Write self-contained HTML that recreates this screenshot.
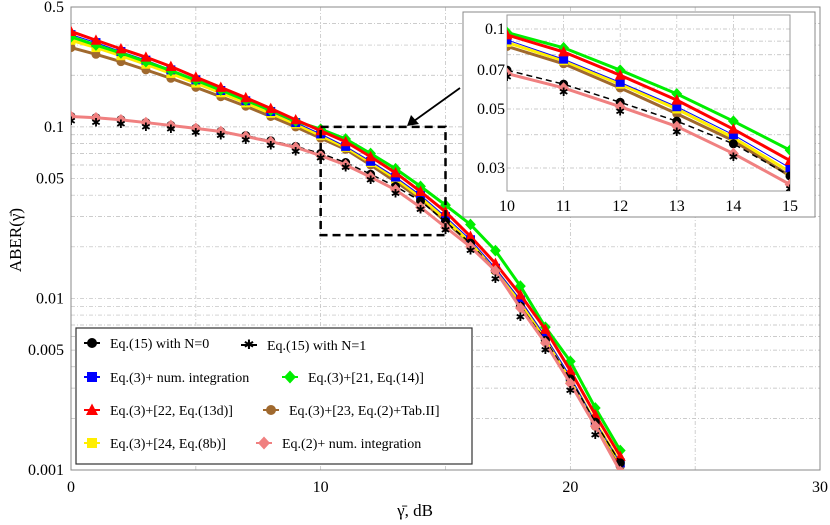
<!DOCTYPE html>
<html><head><meta charset="utf-8">
<style>
html,body{margin:0;padding:0;background:#fff;}
svg{display:block;font-family:"Liberation Serif",serif;}
</style></head>
<body>
<svg id="chart" width="830" height="525" viewBox="0 0 830 525" xmlns="http://www.w3.org/2000/svg"></svg>
<script>
const xs=[0,1,2,3,4,5,6,7,8,9,10,11,12,13,14,15,16,17,18,19,20,21,22];
const red=[0.36,0.32,0.285,0.255,0.225,0.195,0.17,0.148,0.128,0.11,0.095,0.082,0.067,0.054,0.042,0.032,0.023,0.016,0.0105,0.0066,0.0038,0.0021,0.0012];
const green=[0.335,0.30,0.27,0.24,0.213,0.187,0.164,0.143,0.125,0.108,0.097,0.085,0.07,0.057,0.045,0.035,0.027,0.019,0.0118,0.0068,0.0043,0.0023,0.0013];
const blue=[0.345,0.31,0.275,0.245,0.215,0.188,0.163,0.142,0.123,0.106,0.091,0.077,0.063,0.051,0.04,0.03,0.022,0.015,0.0098,0.006,0.0035,0.0019,0.0011];
const yellow=[0.32,0.29,0.26,0.232,0.205,0.18,0.158,0.138,0.12,0.104,0.089,0.076,0.062,0.05,0.039,0.029,0.021,0.0148,0.0096,0.0059,0.0034,0.0019,0.0011];
const brown=[0.29,0.265,0.24,0.215,0.192,0.17,0.15,0.132,0.115,0.1,0.086,0.074,0.06,0.048,0.038,0.028,0.021,0.0145,0.0094,0.0058,0.0033,0.0018,0.00105];
const pink=[0.115,0.113,0.11,0.106,0.102,0.098,0.094,0.088,0.082,0.076,0.068,0.06,0.051,0.043,0.034,0.026,0.02,0.0145,0.0088,0.0055,0.0032,0.0018,0.00098];
const n0=[0.115,0.113,0.11,0.106,0.102,0.098,0.094,0.089,0.083,0.077,0.07,0.062,0.053,0.045,0.037,0.028,0.021,0.0145,0.009,0.0057,0.0034,0.0019,0.0011];
const n1=[0.108,0.106,0.104,0.1,0.097,0.093,0.089,0.084,0.078,0.072,0.066,0.058,0.049,0.041,0.033,0.025,0.019,0.013,0.0078,0.005,0.0029,0.0016,0.00092];
const xTicks=[0,10,20,30];
const yTickVals=[0.5,0.1,0.05,0.01,0.005,0.001];
const yTickLabels=["0.5","0.1","0.05","0.01","0.005","0.001"];
const insetXTicks=[10,11,12,13,14,15];
const insetYVals=[0.1,0.07,0.05,0.03];
const insetYLabels=["0.1","0.07","0.05","0.03"];

const NS="http://www.w3.org/2000/svg";
const svg=document.getElementById('chart');
function el(tag,attrs,parent){const e=document.createElementNS(NS,tag);for(const k in attrs)e.setAttribute(k,attrs[k]);(parent||svg).appendChild(e);return e;}

const L=71,R=820,T=7,B=470;
const xMin=0,xMax=30,yTop=0.5,yBot=0.001;
const X=v=>L+(v-xMin)/(xMax-xMin)*(R-L);
const Y=v=>T+(Math.log10(yTop)-Math.log10(v))/(Math.log10(yTop)-Math.log10(yBot))*(B-T);

const defs=el('defs',{});
const cp=el('clipPath',{id:'mainclip'},defs);el('rect',{x:L,y:T,width:R-L,height:B-T},cp);

const grid=el('g',{stroke:'#bbb','stroke-width':0.7,'stroke-dasharray':'4,2,1,2'});


for(let v=5;v<30;v+=5)el('line',{x1:X(v),x2:X(v),y1:T,y2:B},grid);
for(let d=-3;d<0;d++)for(let k=1;k<10;k++){const v=k*Math.pow(10,d);if(v<=yBot||v>=yTop)continue;el('line',{x1:L,x2:R,y1:Y(v),y2:Y(v)},grid);}
const frame=el('rect',{x:L,y:T,width:R-L,height:B-T,fill:'none',stroke:'#888','stroke-width':1});



xTicks.forEach(v=>{const t=el('text',{x:X(v),y:492,'font-size':16,'text-anchor':'middle'});t.textContent=v;

});
yTickVals.forEach((v,i)=>{const t=el('text',{x:64,y:Y(v)+5,'font-size':16,'text-anchor':'end'});t.textContent=yTickLabels[i];

});
const xt=el('text',{x:415,y:516,'font-size':17,'text-anchor':'middle'});xt.textContent='γ̄, dB';


const yt=el('text',{x:0,y:0,'font-size':17,'text-anchor':'middle',transform:'translate(21,240) rotate(-90)'});yt.textContent='ABER(γ̄)';



function marker(g,type,x,y,color,s){
  if(type==='circle')el('circle',{cx:x,cy:y,r:s,fill:color},g);
  else if(type==='square')el('rect',{x:x-s,y:y-s,width:2*s,height:2*s,fill:color},g);
  else if(type==='diamond')el('polygon',{points:`${x},${y-s*1.3} ${x+s*1.2},${y} ${x},${y+s*1.3} ${x-s*1.2},${y}`,fill:color},g);
  else if(type==='triangle')el('polygon',{points:`${x},${y-s*1.3} ${x+s*1.2},${y+s} ${x-s*1.2},${y+s}`,fill:color},g);
  else if(type==='star'){const t=el('text',{x:x,y:y+4,'font-size':s*2.6,'text-anchor':'middle',fill:color,'font-family':'DejaVu Sans'},g);t.textContent='✱';}
}
const series=[
 {name:'brown',d:brown,c:'#a0692e',m:'circle',w:3},
 {name:'yellow',d:yellow,c:'#ffee00',m:'square',w:3},
 {name:'blue',d:blue,c:'#0000ff',m:'square',w:1},
 {name:'green',d:green,c:'#00ee00',m:'diamond',w:3},
 {name:'red',d:red,c:'#ff0000',m:'triangle',w:3},
 {name:'n0',d:n0,c:'#000',m:'circle',w:1.5,dash:'6,4'},
 {name:'pink',d:pink,c:'#f08080',m:'diamond',w:3},
 {name:'n1',d:n1,c:'#000',m:'star',w:0},
];
function drawSeries(Xf,Yf,clipId,ms,filt,prefix){
  const root=el('g',{'clip-path':`url(#${clipId})`});
  series.forEach(s=>{
    const g=el('g',{},root);
    
    
    const pts=xs.map((x,i)=>[x,s.d[i]]).filter(p=>filt(p[0]));
    if(s.w>0)el('polyline',{points:pts.map(p=>Xf(p[0])+','+Yf(p[1])).join(' '),fill:'none',stroke:s.c,'stroke-width':s.w,'stroke-dasharray':s.dash||'none'},g);
    pts.forEach(p=>marker(g,s.m,Xf(p[0]),Yf(p[1]),s.c,ms));
  });
}
drawSeries(X,Y,'mainclip',4.5,()=>true,'main');

const zr=el('rect',{x:X(10),y:Y(0.1),width:X(15)-X(10),height:Y(0.0234)-Y(0.1),fill:'none',stroke:'#000','stroke-width':2.5,'stroke-dasharray':'8,5'});


const ar=el('g',{});


el('line',{x1:460,y1:88,x2:414,y2:121,stroke:'#000','stroke-width':1.8},ar);
el('polygon',{points:'407,126 411,115 419,124',fill:'#000'},ar);

const ib=el('rect',{x:463,y:12,width:352,height:205,fill:'#fff',stroke:'#888','stroke-width':1});


const iL=507,iR=790,iT=15,iB=191;
const iX=v=>iL+(v-10)/5*(iR-iL);
const iY=v=>29+(Math.log10(0.1)-Math.log10(v))*265.8;
const cp2=el('clipPath',{id:'insetclip'},defs);el('rect',{x:iL,y:iT,width:iR-iL,height:iB-iT},cp2);
const ig=el('g',{stroke:'#bbb','stroke-width':0.7,'stroke-dasharray':'4,2,1,2'});


insetXTicks.forEach(v=>el('line',{x1:iX(v),x2:iX(v),y1:iT,y2:iB},ig));
[0.03,0.04,0.05,0.06,0.07,0.08,0.09,0.1].forEach(v=>el('line',{x1:iL,x2:iR,y1:iY(v),y2:iY(v)},ig));
el('rect',{x:iL,y:iT,width:iR-iL,height:iB-iT,fill:'none',stroke:'#999','stroke-width':1});
insetXTicks.forEach(v=>{const t=el('text',{x:iX(v),y:211,'font-size':16,'text-anchor':'middle'});t.textContent=v;

});
insetYVals.forEach((v,i)=>{const t=el('text',{x:iL-2,y:iY(v)+5,'font-size':16,'text-anchor':'end'});t.textContent=insetYLabels[i];

});
drawSeries(iX,iY,'insetclip',4.5,x=>x>=10&&x<=15,'inset');

const lg=el('g',{});


el('rect',{x:76,y:328,width:396,height:136,fill:'#fff',stroke:'#333','stroke-width':1.2},lg);
const entries=[
 [92,343,'circle','#000','Eq.(15) with N=0'],[249,345,'star','#000','Eq.(15) with N=1'],
 [92,377,'square','#0000ff','Eq.(3)+ num. integration'],[290,377,'diamond','#00ee00','Eq.(3)+[21, Eq.(14)]'],
 [92,410,'triangle','#ff0000','Eq.(3)+[22, Eq.(13d)]'],[271,410,'circle','#a0692e','Eq.(3)+[23, Eq.(2)+Tab.II]'],
 [92,443,'square','#ffee00','Eq.(3)+[24, Eq.(8b)]'],[264,443,'diamond','#f08080','Eq.(2)+ num. integration'],
];
entries.forEach(e=>{
  const g=el('g',{},lg);
  
  
  el('line',{x1:e[0]-8,x2:e[0]+8,y1:e[1],y2:e[1],stroke:e[3],'stroke-width':2},g);
  marker(g,e[2],e[0],e[1],e[3],5);
  const t=el('text',{x:e[0]+18,y:e[1]+5,'font-size':14},g);t.textContent=e[4];
});
</script>
</body></html>
